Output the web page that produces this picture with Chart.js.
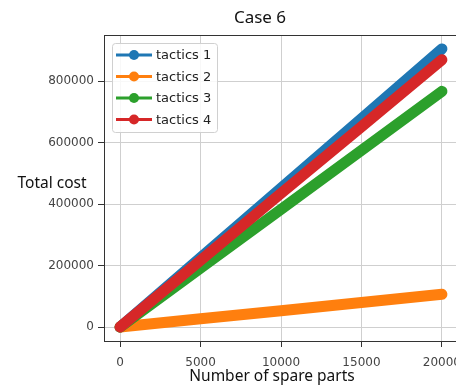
<!DOCTYPE html>
<html>
<head>
    <title>Case 6</title>
    <script src="https://cdn.jsdelivr.net/npm/chart.js"></script>
    <style>
        body { margin: 0; background: #fff; }
        #wrap { width: 456px; height: 387px; overflow: hidden; }
    </style>
</head>
<body>
    <div id="wrap">
        <div style="width:520px;height:387px;position:relative">
            <canvas id="costChart"></canvas>
        </div>
    </div>

    <script>
        const spareParts = [0, 5000, 10000, 15000, 20000];
        const tactics1 = [0, 226000, 452000, 678000, 905000];
        const tactics2 = [0, 27000, 53000, 80000, 107000];
        const tactics3 = [0, 192000, 383000, 575000, 767000];
        const tactics4 = [0, 217000, 435000, 652000, 870000];
        const xTicks = [0, 5000, 10000, 15000, 20000];
        const yTicks = [0, 200000, 400000, 600000, 800000];

        const names = ['tactics 1', 'tactics 2', 'tactics 3', 'tactics 4'];
        const colors = ['#1f77b4', '#ff7f0e', '#2ca02c', '#d62728'];
        const series = [tactics1, tactics2, tactics3, tactics4];

        // first dataset is drawn on top in Chart.js, so feed them in reverse
        const datasets = series.map((vals, i) => ({
            label: names[i],
            data: spareParts.map((x, j) => ({x: x, y: vals[j]})),
            borderColor: colors[i],
            backgroundColor: colors[i],
            borderWidth: 11,
            borderCapStyle: 'round',
            borderJoinStyle: 'round',
            pointRadius: 0
        })).reverse();

        const extras = {
            id: 'extras',
            afterDatasetsDraw(chart) {
                const ctx = chart.ctx;
                const a = chart.chartArea;
                ctx.save();
                // top / right spines
                ctx.strokeStyle = '#333';
                ctx.lineWidth = 1;
                ctx.beginPath();
                ctx.moveTo(a.left, a.top + 0.5);
                ctx.lineTo(a.right, a.top + 0.5);
                ctx.lineTo(a.right - 0.5, a.bottom);
                ctx.stroke();

                // legend
                const bx = a.left + 8, by = a.top + 8, bw = 105, bh = 89;
                ctx.fillStyle = 'rgba(255,255,255,0.85)';
                ctx.strokeStyle = '#d0d0d0';
                ctx.beginPath();
                ctx.roundRect(bx + 0.5, by + 0.5, bw, bh, 3);
                ctx.fill();
                ctx.stroke();
                ctx.font = '13px "DejaVu Sans"';
                ctx.textBaseline = 'middle';
                ctx.textAlign = 'left';
                names.forEach((n, i) => {
                    const yy = by + 12 + i * 21.5;
                    ctx.strokeStyle = colors[i];
                    ctx.lineWidth = 3;
                    ctx.beginPath();
                    ctx.moveTo(bx + 4, yy);
                    ctx.lineTo(bx + 40, yy);
                    ctx.stroke();
                    ctx.fillStyle = colors[i];
                    ctx.beginPath();
                    ctx.arc(bx + 22, yy, 5, 0, Math.PI * 2);
                    ctx.fill();
                    ctx.fillStyle = '#222';
                    ctx.fillText(n, bx + 44, yy + 1);
                });

                // title and axis labels
                ctx.fillStyle = '#111';
                ctx.textAlign = 'center';
                ctx.font = '17px "Noto Sans"';
                ctx.fillText('Case 6', 260, 18);
                ctx.font = '15.5px "Noto Sans"';
                ctx.fillText('Total cost', 52, 184);
                ctx.fillText('Number of spare parts', 272, 377);
                ctx.restore();
            }
        };

        new Chart(document.getElementById('costChart'), {
            type: 'line',
            data: { datasets },
            plugins: [extras],
            options: {
                responsive: true,
                maintainAspectRatio: false,
                animation: false,
                layout: { padding: { left: 0, right: 62, top: 35, bottom: 0 } },
                plugins: {
                    legend: { display: false },
                    tooltip: { enabled: false },
                    title: { display: false }
                },
                scales: {
                    x: {
                        type: 'linear',
                        min: -1000,
                        max: 21000,
                        afterBuildTicks: s => { s.ticks = xTicks.map(v => ({value: v})); },
                        afterFit: s => { s.height = 46; },
                        grid: { color: '#cfcfcf', tickColor: '#333', tickLength: 6 },
                        border: { color: '#333' },
                        ticks: {
                            color: '#444',
                            font: { family: 'DejaVu Sans', size: 12 },
                            padding: 9,
                            maxRotation: 0,
                            callback: v => String(v)
                        }
                    },
                    y: {
                        min: -45250,
                        max: 950250,
                        afterBuildTicks: s => { s.ticks = yTicks.map(v => ({value: v})); },
                        afterFit: s => { s.width = 104; },
                        grid: { color: '#cfcfcf', tickColor: '#333', tickLength: 6 },
                        border: { color: '#333' },
                        ticks: {
                            color: '#444',
                            font: { family: 'DejaVu Sans', size: 12 },
                            padding: 4,
                            callback: v => String(v)
                        }
                    }
                }
            }
        });
    </script>
</body>
</html>
